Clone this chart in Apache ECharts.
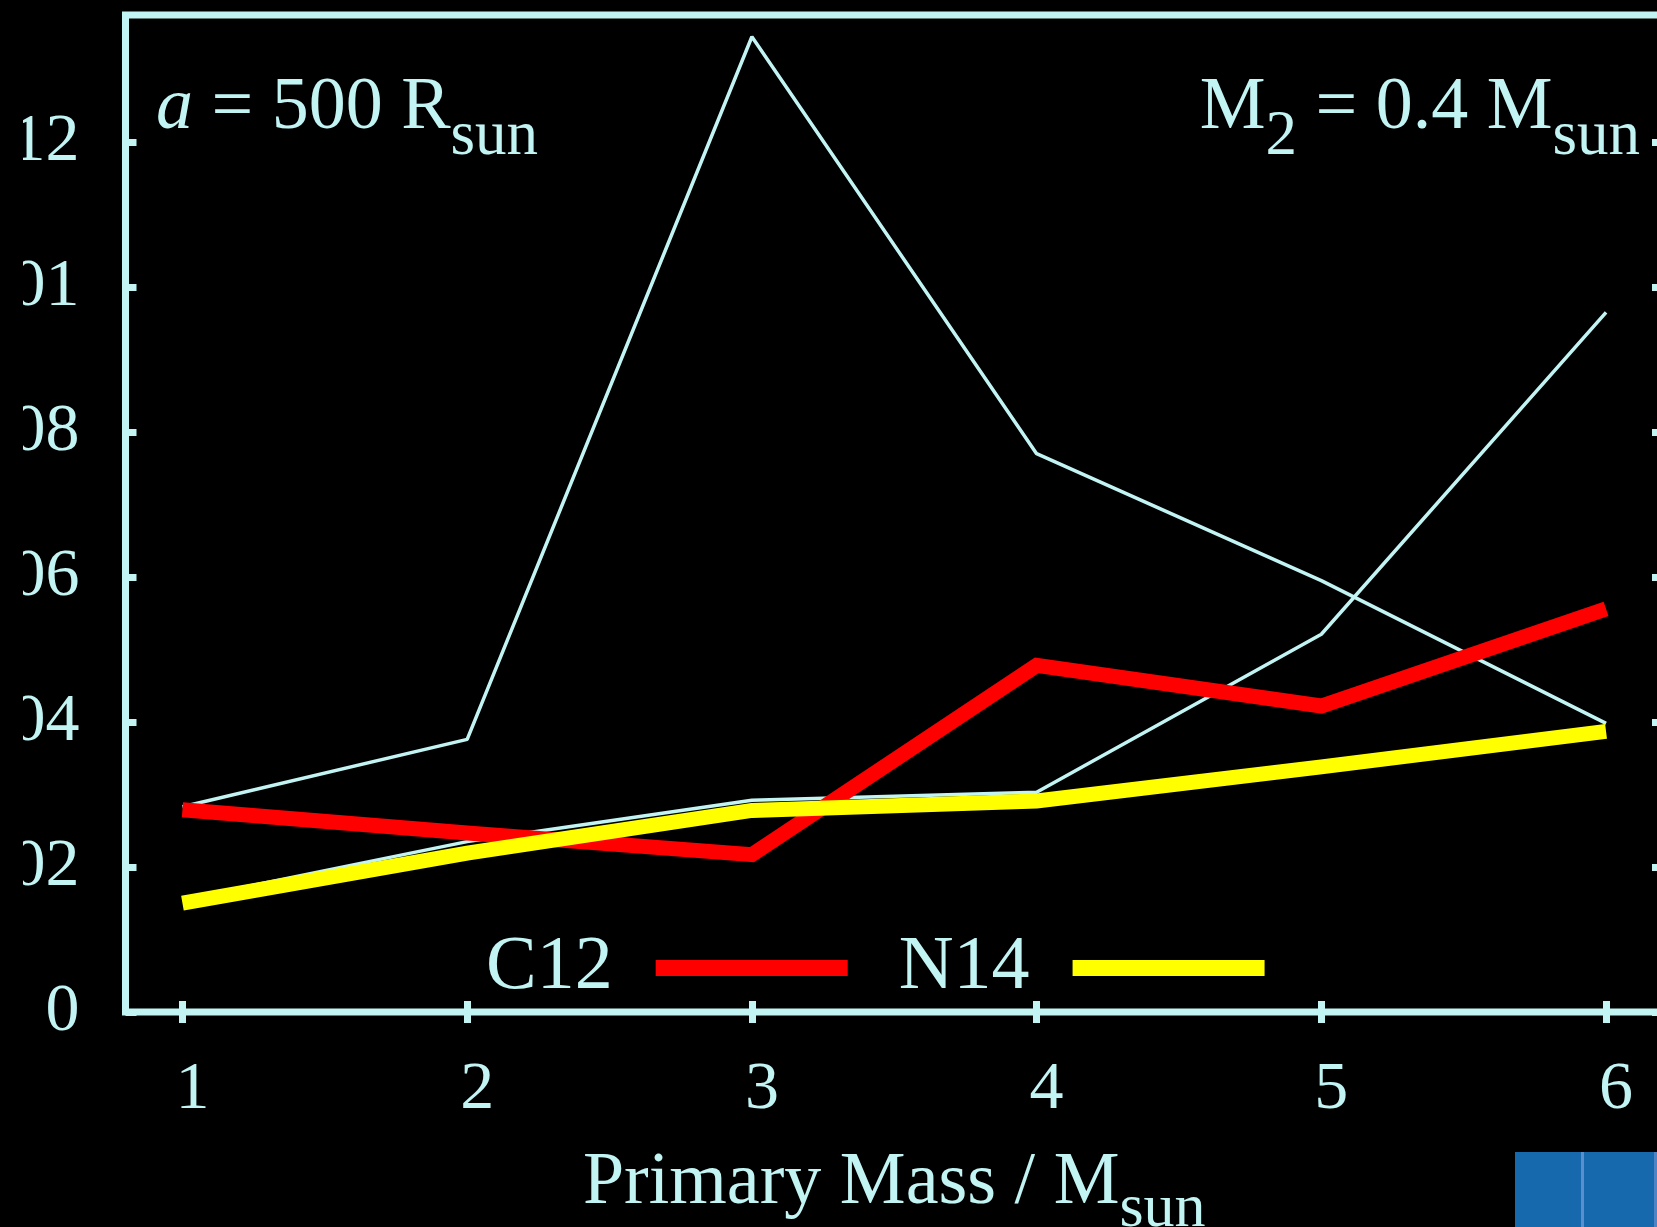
<!DOCTYPE html>
<html>
<head>
<meta charset="utf-8">
<script src="https://cdn.jsdelivr.net/npm/echarts@6/dist/echarts.min.js"></script>
<style>
  html, body { margin: 0; padding: 0; background: #000; }
  #chart { width: 1657px; height: 1227px; }
</style>
</head>
<body>
<div id="chart"></div>
<script>
// Primary mass (M_sun) at which each model was run
const primaryMass = [1, 2, 3, 4, 5, 6];

// Yields per model
const c12Yield = [0.00279, 0.00247, 0.00217, 0.00478, 0.00422, 0.00556];
const n14Yield = [0.00150, 0.00219, 0.00278, 0.00291, 0.00338, 0.00387];
const thinTraceA = [0.00283, 0.00376, 0.01345, 0.00770, 0.00595, 0.00398];
const thinTraceB = [0.00155, 0.00235, 0.00292, 0.00303, 0.00521, 0.00965];

// Axis ticks and their printed labels
const xTicks = [1, 2, 3, 4, 5, 6];
const xTickLabels = ['1', '2', '3', '4', '5', '6'];
const yTicks = [0, 0.002, 0.004, 0.006, 0.008, 0.010, 0.012];
const yTickLabels = ['0', '0.002', '0.004', '0.006', '0.008', '0.01', '0.012'];

const legendNames = ['C12', 'N14'];

const INK = '#c2f4f4';
const SERIF = '"Liberation Serif", "DejaVu Serif", serif';

function pairs(ys) { return primaryMass.map((x, i) => [x, ys[i]]); }
function labelFor(ticks, labels) {
  return function (v) {
    const i = ticks.findIndex(t => Math.abs(t - v) < 1e-9);
    return i < 0 ? '' : labels[i];
  };
}

const tickStyle = { show: true, inside: true, length: 11, lineStyle: { color: INK, width: 7 } };

const chart = echarts.init(document.getElementById('chart'), null, { renderer: 'canvas' });

chart.setOption({
  backgroundColor: '#000000',
  animation: false,
  grid: {
    left: 125.5, top: 15, width: 1537.5, height: 997,
    show: true, borderColor: INK, borderWidth: 7, backgroundColor: 'transparent',
    containLabel: false, outerBoundsMode: 'none'
  },
  xAxis: [
    {
      type: 'value', position: 'bottom', min: 0.8, max: 6.2,
      axisLine: { show: false },
      splitLine: { show: false },
      axisTick: Object.assign({ customValues: xTicks }, tickStyle),
      axisLabel: {
        customValues: xTicks, formatter: labelFor(xTicks, xTickLabels),
        color: INK, fontFamily: SERIF, fontSize: 68, margin: 44, padding: [0, 0, 0, 20]
      },
      name: '{m|Primary Mass / M}{s|sun}',
      nameLocation: 'middle', nameGap: 135,
      nameTextStyle: {
        color: INK, fontFamily: SERIF,
        rich: {
          m: { fontFamily: SERIF, fontSize: 74, lineHeight: 74, color: INK, verticalAlign: 'top' },
          s: { fontFamily: SERIF, fontSize: 62, lineHeight: 62, color: INK, verticalAlign: 'top', padding: [32, 0, 0, 0] }
        }
      }
    },
    {
      type: 'value', position: 'top', min: 0.8, max: 6.2,
      axisLine: { show: false }, splitLine: { show: false },
      axisTick: Object.assign({ customValues: xTicks }, tickStyle),
      axisLabel: { show: false }
    }
  ],
  yAxis: [
    {
      type: 'value', position: 'left', min: 0, max: 0.01375,
      axisLine: { show: false }, splitLine: { show: false },
      axisTick: Object.assign({ customValues: yTicks }, tickStyle),
      axisLabel: {
        customValues: yTicks, formatter: labelFor(yTicks, yTickLabels),
        color: INK, fontFamily: SERIF, fontSize: 68, margin: 46, padding: [4, 0, 0, 0]
      }
    },
    {
      type: 'value', position: 'right', min: 0, max: 0.01375,
      axisLine: { show: false }, splitLine: { show: false },
      axisTick: Object.assign({ customValues: yTicks }, tickStyle),
      axisLabel: { show: false }
    }
  ],
  legend: {
    data: legendNames,
    left: 486, top: 930, padding: 0,
    orient: 'horizontal', align: 'right',
    icon: 'rect', itemWidth: 192, itemHeight: 16, itemGap: 51,
    selectedMode: false,
    lineStyle: { width: 16 },
    textStyle: { color: INK, fontFamily: SERIF, fontSize: 76, padding: [0, 38, 0, 0] }
  },
  series: [
    { name: 'trace A', type: 'line', data: pairs(thinTraceA), symbol: 'none', clip: false,
      lineStyle: { color: INK, width: 3.5 }, itemStyle: { color: INK }, z: 2 },
    { name: 'trace B', type: 'line', data: pairs(thinTraceB), symbol: 'none', clip: false,
      lineStyle: { color: INK, width: 3.5 }, itemStyle: { color: INK }, z: 2 },
    { name: 'C12', type: 'line', data: pairs(c12Yield), symbol: 'none', clip: false,
      lineStyle: { color: '#ff0000', width: 15, join: 'miter' }, itemStyle: { color: '#ff0000' }, z: 3 },
    { name: 'N14', type: 'line', data: pairs(n14Yield), symbol: 'none', clip: false,
      lineStyle: { color: '#ffff00', width: 15, join: 'miter' }, itemStyle: { color: '#ffff00' }, z: 4 }
  ],
  graphic: [
    {
      type: 'text', left: 156, top: 72, silent: true,
      style: {
        text: '{i|a}{m| = 500 R}{s|sun}',
        rich: {
          i: { fontFamily: SERIF, fontStyle: 'italic', fontSize: 74, lineHeight: 74, fill: INK, verticalAlign: 'top' },
          m: { fontFamily: SERIF, fontSize: 74, lineHeight: 74, fill: INK, verticalAlign: 'top' },
          s: { fontFamily: SERIF, fontSize: 63, lineHeight: 63, fill: INK, verticalAlign: 'top', padding: [34, 0, 0, 0] }
        }
      }
    },
    {
      type: 'text', right: 17, top: 72, silent: true,
      style: {
        text: '{m|M}{s|2}{m| = 0.4 M}{s|sun}',
        rich: {
          m: { fontFamily: SERIF, fontSize: 74, lineHeight: 74, fill: INK, verticalAlign: 'top' },
          s: { fontFamily: SERIF, fontSize: 63, lineHeight: 63, fill: INK, verticalAlign: 'top', padding: [34, 0, 0, 0] }
        }
      }
    },
    // the page edge trims the left tick labels
    {
      type: 'rect', left: 0, top: 0, z: 100, silent: true,
      shape: { x: 0, y: 0, width: 23, height: 1227 }, style: { fill: '#000000' }
    },
    {
      type: 'group', right: 0, bottom: 0, silent: true,
      children: [
        { type: 'rect', shape: { x: 0, y: 0, width: 142, height: 75 }, style: { fill: '#1769ad' } },
        { type: 'rect', shape: { x: 66, y: 0, width: 3, height: 75 }, style: { fill: '#5a8fcf' } },
        { type: 'rect', shape: { x: 139, y: 0, width: 3, height: 75 }, style: { fill: '#4c84c6' } }
      ]
    }
  ]
});
</script>
</body>
</html>
